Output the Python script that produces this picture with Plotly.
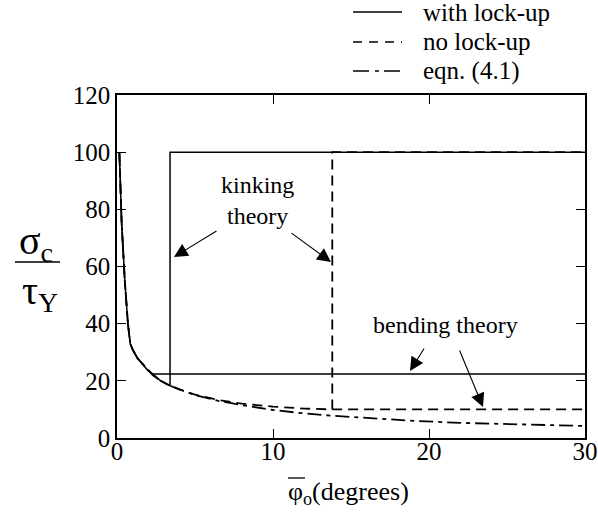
import plotly.graph_objects as go

# ---------------- data ----------------
eqn_x = [0.15, 0.3, 0.5, 0.7, 0.85, 1.0, 1.3, 1.7, 2.0, 2.3, 2.8, 3.4, 4.0, 5.0,
         6.5, 8.0, 10, 12, 13.8, 16, 19, 22, 26, 30]
eqn_y = [100, 75, 55, 40, 33, 31, 28, 25.5, 23.5, 22, 20, 18.3, 17, 15,
         13, 11.5, 9.8, 8.6, 7.8, 7.0, 6.0, 5.3, 4.7, 4.2]

lock_x = [0.15, 0.3, 0.5, 0.7, 0.85, 1.0, 1.3, 1.7, 2.0, 2.3, 30]
lock_y = [100, 75, 55, 40, 33, 31, 28, 25.5, 23.5, 22.4, 22.4]

lock_kink_x = [2.3, 2.8, 3.4, 3.4, 30]
lock_kink_y = [22.4, 20, 18.3, 100, 100]

nolock_x = [0.15, 0.3, 0.5, 0.7, 0.85, 1.0, 1.3, 1.7, 2.0, 2.3, 2.8, 3.4, 4.0,
            5.0, 6.5, 8.0, 10, 12, 13.8, 30]
nolock_y = [100, 75, 55, 40, 33, 31, 28, 25.5, 23.5, 22, 20, 18.3, 17,
            15.2, 13.3, 12, 11, 10.3, 10, 10]

nolock_kink_x = [13.8, 13.8, 30]
nolock_kink_y = [10, 100, 100]

x_ticks = [0, 10, 20, 30]
y_ticks = [0, 20, 40, 60, 80, 100, 120]

legend_names = ["with lock-up", "no lock-up", "eqn. (4.1)"]

FONT = "Liberation Serif, Times New Roman, Times, serif"

DASH_SOLID = "solid"
DASH_DASH = "10px,6px"
DASH_DOT = "14px,5px,4px,5px"

fig = go.Figure()
fig.add_trace(go.Scatter(x=lock_x, y=lock_y, mode="lines", name=legend_names[0],
                         line=dict(color="black", width=1.5, dash=DASH_SOLID)))
fig.add_trace(go.Scatter(x=lock_kink_x, y=lock_kink_y, mode="lines",
                         line=dict(color="black", width=1.5, dash=DASH_SOLID)))
fig.add_trace(go.Scatter(x=nolock_x, y=nolock_y, mode="lines", name=legend_names[1],
                         line=dict(color="black", width=1.8, dash=DASH_DASH)))
fig.add_trace(go.Scatter(x=nolock_kink_x, y=nolock_kink_y, mode="lines",
                         line=dict(color="black", width=1.8, dash=DASH_DASH)))
fig.add_trace(go.Scatter(x=eqn_x, y=eqn_y, mode="lines", name=legend_names[2],
                         line=dict(color="black", width=1.8, dash=DASH_DOT)))

W, H = 598, 519
L, R, T, B = 117, 13, 95, 81
pw, ph = W - L - R, H - T - B


def px(xp):
    return (xp - L) / pw


def py(yp):
    return (H - B - yp) / ph


axis_common = dict(showline=True, linecolor="black", linewidth=1.5, mirror="ticks",
                   ticks="inside", ticklen=9, tickwidth=1.2, tickcolor="black",
                   showgrid=False, zeroline=False,
                   tickfont=dict(family=FONT, size=25, color="black"))

fig.update_layout(
    width=W, height=H,
    margin=dict(l=L, r=R, t=T, b=B, autoexpand=False),
    plot_bgcolor="white", paper_bgcolor="white",
    font=dict(family=FONT, color="black"),
    xaxis=dict(range=[0, 30], tickvals=x_ticks, ticklabelstandoff=-10, **axis_common),
    yaxis=dict(range=[0, 120], tickvals=y_ticks, ticklabelstandoff=0, **axis_common),
    showlegend=False,
)


def txt(xp, yp, text, size, xanchor="center"):
    return dict(x=px(xp), y=py(yp), xref="paper", yref="paper", showarrow=False,
                xanchor=xanchor, yanchor="middle", text=text,
                font=dict(family=FONT, size=size, color="black"))


ann = [
    txt(36, 243, "σ<sub>c</sub>", 40),
    txt(40, 293, "τ<sub>Y</sub>", 40),
    txt(286, 493, "φ<sub>o</sub>(degrees)", 26, "left"),
    txt(257, 200, "kinking<br>theory", 24),
    txt(445, 325, "bending theory", 24),
]
# arrows: (tail pixel, head pixel)
arrows = [((218, 230), (174, 257)), ((290, 232), (331, 262)),
          ((425, 347), (410, 371)), ((459, 349), (483, 407))]
for (tx, ty), (hx, hy) in arrows:
    ann.append(dict(x=px(hx), y=py(hy), xref="paper", yref="paper",
                    ax=tx - hx, ay=ty - hy, axref="pixel", ayref="pixel",
                    showarrow=True, arrowhead=2, arrowsize=2.5, arrowwidth=1.1,
                    arrowcolor="black", text=""))

shapes = [
    dict(type="line", xref="paper", yref="paper", x0=px(15), x1=px(60),
         y0=py(262), y1=py(262), line=dict(color="black", width=1.5)),
    dict(type="line", xref="paper", yref="paper", x0=px(288), x1=px(305),
         y0=py(478), y1=py(478), line=dict(color="black", width=1.3)),
]

# manual legend (above the plot, right side)
leg_rows = [12, 42, 71]
leg_dash = [DASH_SOLID, "9px,7px", "16px,6px,4px,5px"]
for name, yrow, dsh in zip(legend_names, leg_rows, leg_dash):
    shapes.append(dict(type="line", xref="paper", yref="paper", x0=px(353), x1=px(402),
                       y0=py(yrow), y1=py(yrow),
                       line=dict(color="black", width=1.5, dash=dsh)))
    ann.append(txt(421, yrow, name, 25, "left"))

fig.update_layout(annotations=ann, shapes=shapes)

fig.write_html("out.html")
